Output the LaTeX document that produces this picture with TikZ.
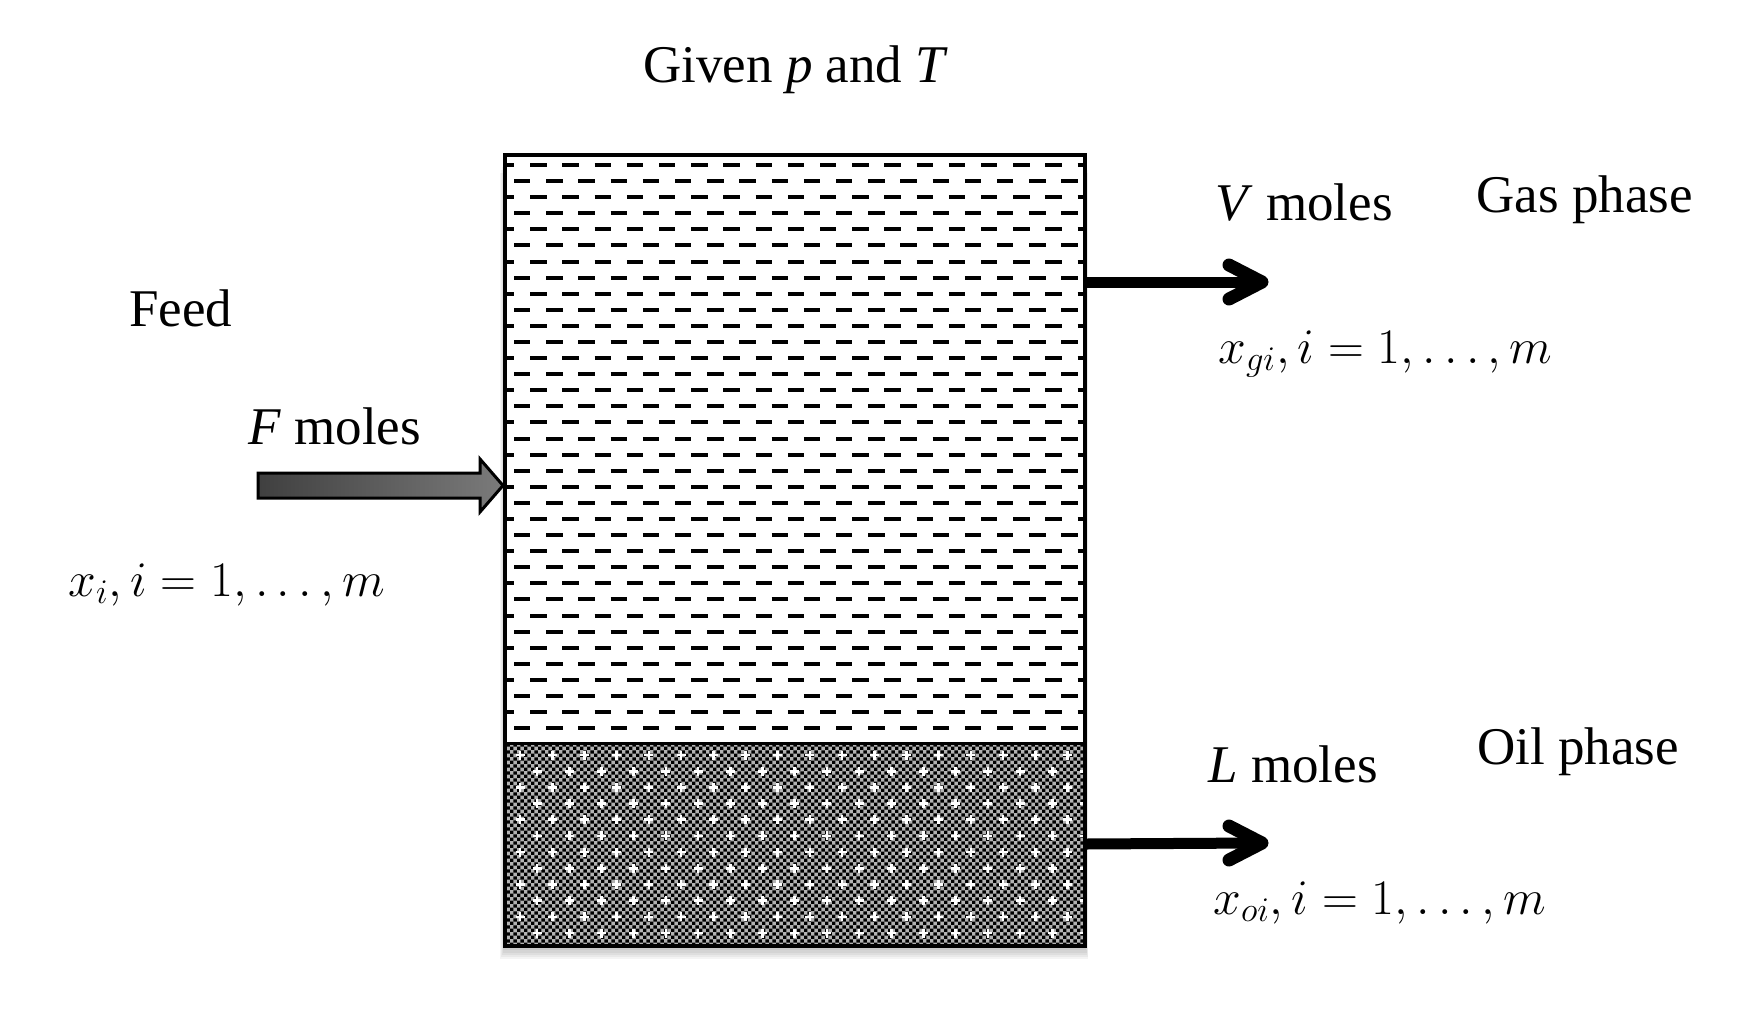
\documentclass[tikz,border=0pt]{standalone}
\usepackage{fontspec}
\setmainfont{Liberation Serif}
\usetikzlibrary{calc,patterns.meta}

\tikzdeclarepattern{
  name=oilchk,
  type=colored,
  bottom left={(0pt,0pt)},
  top right={(3.4pt,3.4pt)},
  tile size={(3.4pt,3.4pt)},
  code={
    \fill[black] (0pt,0pt) rectangle (1.7pt,1.7pt);
    \fill[black] (1.7pt,1.7pt) rectangle (3.4pt,3.4pt);
  }
}

\tikzset{
  lbl/.style={inner sep=0pt, anchor=base west, font=\fontsize{26.5}{30}\selectfont},
  mlbl/.style={inner sep=0pt, anchor=base west, font=\fontsize{25}{30}\selectfont},
  dashrow/.style={line width=2pt, dash pattern=on 8.2pt off 7.9pt},
  shaft/.style={line width=5.5pt},
  chevron/.style={line width=6.5pt, line cap=round, line join=round},
  feedarrow/.style={line width=1.5pt, line join=miter, left color=black!75, right color=black!52},
  plusmark/.style={white, line width=1.3pt}
}

\begin{document}
\begin{tikzpicture}[x={(0.5pt,0)}, y={(0,-0.5pt)}]
\useasboundingbox (0,0) rectangle (1762,1014);
\fill[white] (0,0) rectangle (1762,1014);

% vessel corners
\coordinate (vNW) at (505,155);
\coordinate (vSE) at (1085,946);
\coordinate (ifW) at (505,743.5);
\coordinate (ifE) at (1085,743.5);

% soft shadow
\foreach \i in {1,...,6}
  \fill[black,opacity=0.045] ($(vNW)+(-0.8*\i,3*\i)$) rectangle ($(vSE)+(0.5*\i,2.2*\i)$);

% gas region
\fill[white] (vNW) rectangle (ifE);
\begin{scope}
  \clip (vNW) rectangle (ifE);
  \foreach \r in {0,...,17} {
    \draw[dashrow] (498,{165+32.18*\r}) -- (1100,{165+32.18*\r});
    \draw[dashrow] (514,{181.09+32.18*\r}) -- (1100,{181.09+32.18*\r});
  }
\end{scope}

% oil region
\fill[black!30] (ifW) rectangle (vSE);
\fill[pattern=oilchk] (ifW) rectangle (vSE);
\begin{scope}
  \clip (ifW) rectangle (vSE);
  \foreach \r in {0,...,5} {
    \foreach \k in {0,...,17} {
      \draw[plusmark] ({520+32.2*\k-4.5},{755+32.36*\r}) -- ({520+32.2*\k+4.5},{755+32.36*\r})
                      ({520+32.2*\k},{755+32.36*\r-4.5}) -- ({520+32.2*\k},{755+32.36*\r+4.5});
      \draw[plusmark] ({537+32.2*\k-4.5},{771.2+32.36*\r}) -- ({537+32.2*\k+4.5},{771.2+32.36*\r})
                      ({537+32.2*\k},{771.2+32.36*\r-4.5}) -- ({537+32.2*\k},{771.2+32.36*\r+4.5});
    }
  }
\end{scope}

% interface and border
\draw[line width=1.5pt] (ifW) -- (ifE);
\draw[line width=2pt] (vNW) rectangle (vSE);

% feed arrow
\coordinate (feedtail) at (258,485.5);
\coordinate (feedtip) at (503,485.5);
\draw[feedarrow]
  ($(feedtail)+(0,-12.5)$) -- ($(feedtip)+(-23,-12.5)$) -- ($(feedtip)+(-23,-26.5)$)
  -- (feedtip) -- ($(feedtip)+(-23,26.5)$) -- ($(feedtip)+(-23,12.5)$)
  -- ($(feedtail)+(0,12.5)$) -- cycle;

% gas outlet arrow
\coordinate (gasout) at (1085,282);
\coordinate (gastip) at (1262,282);
\draw[shaft] (gasout) -- ($(gastip)+(-6,0)$);
\draw[chevron] ($(gastip)+(-33,-17)$) -- (gastip) -- ($(gastip)+(-33,17)$);

% oil outlet arrow
\coordinate (oilout) at (1085,844);
\coordinate (oiltip) at (1262,843);
\draw[shaft] (oilout) -- ($(oiltip)+(-6,0)$);
\draw[chevron] ($(oiltip)+(-33,-17)$) -- (oiltip) -- ($(oiltip)+(-33,17)$);

% labels
\node[lbl] (given) at (643,82) {Given \textit{p} and \textit{T}};
\node[lbl] (feed) at (129,326) {Feed};
\node[lbl] (fmoles) at (248,444) {\textit{F} moles};
\node[mlbl] (xfeed) at (68,596) {$x_i, i = 1, \ldots, m$};
\node[lbl] (vmoles) at (1215,220) {\textit{V} moles};
\node[lbl] (gas) at (1476,212) {Gas phase};
\node[mlbl] (xgas) at (1218,363) {$x_{gi}, i = 1, \ldots, m$};
\node[lbl] (lmoles) at (1208,782) {\textit{L} moles};
\node[lbl] (oil) at (1477,764) {Oil phase};
\node[mlbl] (xoil) at (1213,914) {$x_{oi}, i = 1, \ldots, m$};
\end{tikzpicture}
\end{document}
